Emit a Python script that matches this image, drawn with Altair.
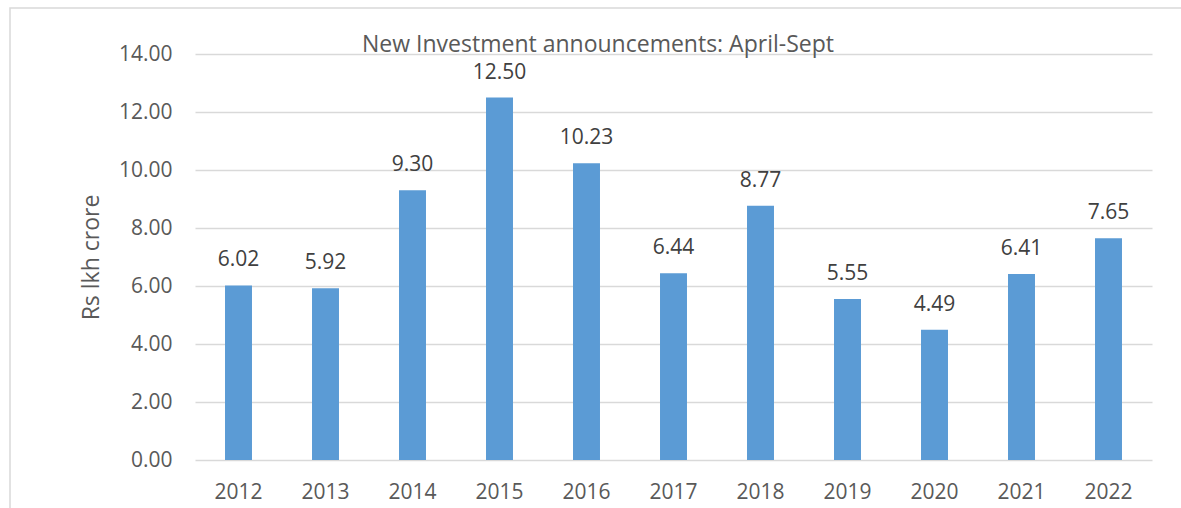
import altair as alt
import pandas as pd

years = ["2012", "2013", "2014", "2015", "2016", "2017", "2018", "2019", "2020", "2021", "2022"]
values = [6.02, 5.92, 9.30, 12.50, 10.23, 6.44, 8.77, 5.55, 4.49, 6.41, 7.65]
y_ticks = [0, 2, 4, 6, 8, 10, 12, 14]
title_text = "New Investment announcements: April-Sept"
y_title = "Rs lkh crore"

df = pd.DataFrame({"year": years, "value": values})

FONT = "Open Sans"
PLOT_W, PLOT_H = 957, 406
LEFT, TOP = 195, 54

x_enc = alt.X("year:N", sort=years,
              scale=alt.Scale(paddingInner=0.69, paddingOuter=0.345),
              axis=alt.Axis(title=None, labelAngle=0, labelFont=FONT, labelFontSize=21,
                            labelColor="#595959", labelPadding=21, ticks=False,
                            domain=False, grid=False))
y_enc = alt.Y("value:Q",
              scale=alt.Scale(domain=[0, 14], nice=False),
              axis=alt.Axis(title=y_title, values=y_ticks, format=".2f",
                            labelFont=FONT, labelFontSize=21, labelColor="#595959",
                            labelPadding=23, ticks=False, domain=False,
                            grid=True, gridColor="#d9d9d9", gridWidth=1.3,
                            titleFont=FONT, titleFontSize=23, titleColor="#595959",
                            titleFontWeight="normal", titlePadding=15))

base = alt.Chart(df)

border = alt.Chart(pd.DataFrame({"k": [0]})).mark_rect(
    fill=None, stroke="#d9d9d9", strokeWidth=1.5
).encode(
    x=alt.value(10 - LEFT), x2=alt.value(1400 - LEFT),
    y=alt.value(8 - TOP), y2=alt.value(700 - TOP)
)

bars = base.mark_bar(color="#5b9bd5").encode(x=x_enc, y=y_enc)

labels = base.mark_text(
    font=FONT, fontSize=21, color="#404040", baseline="alphabetic", dy=-19
).encode(
    x=alt.X("year:N", sort=years),
    y=alt.Y("value:Q"),
    text=alt.Text("value:Q", format=".2f"),
)

title = alt.Chart(pd.DataFrame({"t": [title_text]})).mark_text(
    font=FONT, fontSize=23, color="#595959", baseline="alphabetic", align="center"
).encode(
    x=alt.value(598 - LEFT), y=alt.value(-2), text="t:N"
)

chart = alt.layer(border, bars, labels, title).properties(
    width=PLOT_W, height=PLOT_H,
    padding={"left": LEFT, "top": TOP, "right": 1181 - LEFT - PLOT_W, "bottom": 508 - TOP - PLOT_H},
    autosize=alt.AutoSizeParams(type="none"),
    background="white",
).configure_view(stroke=None)

chart.save("out.html", embed_options={"renderer": "svg", "actions": False})
